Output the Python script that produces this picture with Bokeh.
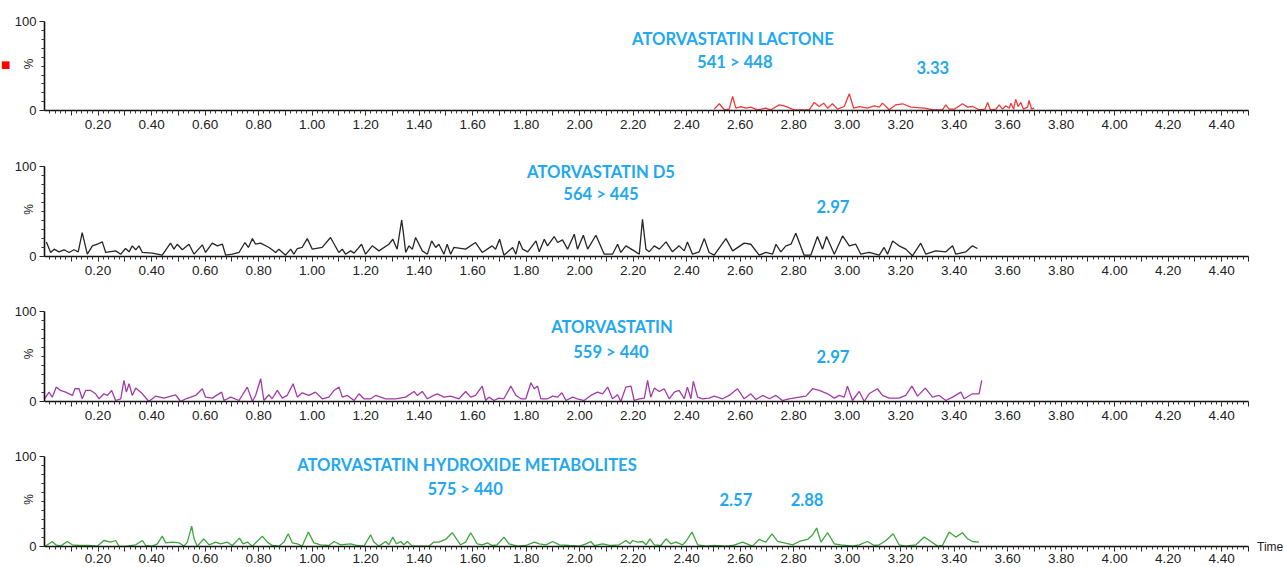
from bokeh.plotting import figure
from bokeh.models import Range1d, FixedTicker, Label, Div
from bokeh.layouts import column, row
from bokeh.embed import file_html
from bokeh.resources import INLINE

# ---------------- data (time in min, intensity in %) ----------------
lactone_t = [2.503, 2.522, 2.541, 2.559, 2.572, 2.584, 2.603, 2.621, 2.640, 2.665,
             2.696, 2.715, 2.746, 2.765, 2.802, 2.858, 2.877, 2.895, 2.912, 2.927,
             2.945, 2.964, 2.989, 3.008, 3.024, 3.045, 3.076, 3.101, 3.120, 3.132,
             3.157, 3.182, 3.207, 3.238, 3.288, 3.325, 3.356, 3.369, 3.381, 3.400,
             3.431, 3.450, 3.469, 3.493, 3.515, 3.525, 3.535, 3.556, 3.568, 3.581,
             3.593, 3.606, 3.612, 3.622, 3.630, 3.639, 3.649, 3.659, 3.674, 3.680,
             3.689, 3.699]
lactone_i = [1.5, 7.6, 0.8, 1.5, 15.9, 2.6, 4.5, 2.6, 3.8, 0.8,
             2.6, 0.8, 6.4, 5.3, 0.8, 0.8, 9.1, 4.5, 8.3, 2.6,
             7.6, 1.5, 4.5, 18.9, 2.6, 4.5, 2.6, 5.3, 3.8, 8.3,
             0.8, 6.4, 7.6, 3.8, 2.6, 0.8, 0.8, 6.4, 1.5, 1.5,
             7.6, 3.8, 4.5, 0.8, 1.5, 9.1, 0.8, 1.5, 6.4, 1.5,
             5.3, 2.6, 8.3, 1.5, 12.5, 4.5, 9.1, 1.5, 3.8, 11.3,
             1.5, 2.6]

d5_t = [0.007, 0.023, 0.036, 0.054, 0.073, 0.092, 0.110, 0.126, 0.141, 0.160,
        0.179, 0.197, 0.216, 0.229, 0.266, 0.285, 0.303, 0.316, 0.328, 0.341,
        0.353, 0.366, 0.403, 0.440, 0.471, 0.484, 0.496, 0.515, 0.540, 0.559,
        0.590, 0.602, 0.627, 0.646, 0.665, 0.677, 0.702, 0.727, 0.749, 0.762,
        0.777, 0.789, 0.808, 0.839, 0.851, 0.864, 0.876, 0.901, 0.920, 0.932,
        0.945, 0.963, 0.982, 1.001, 1.038, 1.069, 1.100, 1.113, 1.125, 1.144,
        1.157, 1.185, 1.200, 1.225, 1.250, 1.287, 1.302, 1.318, 1.335, 1.342,
        1.350, 1.362, 1.375, 1.387, 1.412, 1.431, 1.447, 1.462, 1.474, 1.493,
        1.505, 1.518, 1.530, 1.574, 1.611, 1.636, 1.673, 1.686, 1.701, 1.717,
        1.750, 1.762, 1.774, 1.787, 1.806, 1.837, 1.849, 1.868, 1.880, 1.905,
        1.918, 1.936, 1.955, 1.980, 1.992, 2.014, 2.030, 2.061, 2.092, 2.123,
        2.142, 2.154, 2.173, 2.204, 2.223, 2.235, 2.248, 2.260, 2.279, 2.298,
        2.323, 2.347, 2.372, 2.391, 2.403, 2.422, 2.447, 2.466, 2.484, 2.503,
        2.547, 2.572, 2.615, 2.640, 2.671, 2.696, 2.721, 2.734, 2.752, 2.771,
        2.790, 2.808, 2.839, 2.864, 2.889, 2.908, 2.923, 2.952, 2.983, 3.008,
        3.032, 3.051, 3.082, 3.120, 3.138, 3.151, 3.170, 3.194, 3.219, 3.244,
        3.275, 3.294, 3.331, 3.369, 3.394, 3.406, 3.444, 3.468, 3.487]
d5_i = [16.3, 4.5, 8.2, 5.2, 7.5, 4.5, 7.5, 5.2, 26.7, 2.6,
        11.9, 13.7, 16.3, 4.5, 6.3, 2.6, 8.9, 5.2, 11.9, 7.5,
        11.9, 4.5, 3.8, 1.5, 14.9, 8.2, 13.7, 7.5, 13.7, 2.6,
        13.0, 4.5, 14.9, 11.9, 13.7, 1.5, 2.6, 4.5, 15.6, 10.1,
        20.0, 13.7, 14.9, 10.1, 7.5, 4.5, 8.2, 1.5, 8.2, 2.6,
        8.9, 10.1, 20.0, 8.2, 10.1, 21.2, 4.5, 8.2, 2.6, 6.3,
        3.8, 13.7, 2.6, 11.9, 6.3, 13.7, 19.3, 8.2, 40.8, 24.9,
        4.5, 11.9, 8.2, 21.2, 6.3, 2.6, 17.4, 10.1, 13.7, 2.6,
        13.7, 2.6, 10.1, 8.2, 15.6, 4.5, 11.9, 8.2, 19.3, 1.5,
        10.1, 2.6, 17.4, 8.2, 5.2, 17.4, 5.2, 19.3, 11.9, 22.3,
        15.6, 18.6, 8.2, 24.9, 8.2, 23.7, 8.2, 23.7, 2.6, 2.6,
        13.7, 4.5, 11.9, 6.3, 2.6, 41.5, 8.2, 5.2, 11.9, 8.2,
        16.3, 5.2, 11.9, 6.3, 16.3, 2.6, 5.2, 20.0, 4.5, 1.5,
        20.0, 6.3, 14.9, 13.7, 1.5, 4.5, 2.6, 13.7, 5.2, 11.9,
        13.7, 26.0, 1.5, 1.5, 22.3, 8.2, 22.3, 2.6, 23.0, 11.9,
        13.7, 2.6, 4.5, 1.5, 10.1, 2.6, 17.4, 11.9, 8.2, 0.8,
        14.9, 2.6, 6.3, 5.2, 11.9, 2.6, 5.2, 11.9, 8.9]

atv_t = [0.000, 0.017, 0.029, 0.044, 0.060, 0.079, 0.104, 0.114, 0.129, 0.141,
         0.154, 0.173, 0.191, 0.204, 0.222, 0.235, 0.251, 0.266, 0.285, 0.297,
         0.306, 0.316, 0.328, 0.341, 0.366, 0.390, 0.415, 0.447, 0.490, 0.509,
         0.528, 0.565, 0.590, 0.602, 0.627, 0.662, 0.671, 0.696, 0.727, 0.758,
         0.777, 0.789, 0.808, 0.820, 0.839, 0.851, 0.870, 0.889, 0.907, 0.929,
         0.945, 0.963, 0.988, 1.013, 1.038, 1.063, 1.082, 1.101, 1.113, 1.132,
         1.157, 1.175, 1.194, 1.219, 1.238, 1.275, 1.312, 1.350, 1.381, 1.393,
         1.412, 1.431, 1.449, 1.468, 1.493, 1.518, 1.549, 1.574, 1.593, 1.611,
         1.636, 1.649, 1.661, 1.680, 1.698, 1.717, 1.743, 1.762, 1.781, 1.799,
         1.818, 1.830, 1.843, 1.855, 1.880, 1.899, 1.918, 1.934, 1.949, 1.974,
         1.992, 2.017, 2.042, 2.067, 2.086, 2.105, 2.123, 2.142, 2.154, 2.173,
         2.192, 2.204, 2.223, 2.242, 2.254, 2.266, 2.279, 2.298, 2.316, 2.335,
         2.354, 2.372, 2.391, 2.403, 2.416, 2.425, 2.441, 2.460, 2.484, 2.503,
         2.534, 2.559, 2.590, 2.615, 2.640, 2.659, 2.684, 2.709, 2.734, 2.758,
         2.783, 2.821, 2.846, 2.871, 2.896, 2.927, 2.952, 2.970, 2.989, 3.001,
         3.020, 3.045, 3.064, 3.082, 3.113, 3.132, 3.157, 3.194, 3.219, 3.242,
         3.263, 3.292, 3.319, 3.344, 3.369, 3.394, 3.425, 3.437, 3.468, 3.493,
         3.503]
atv_i = [3.0, 10.4, 4.8, 15.9, 12.2, 10.4, 6.7, 14.1, 14.1, 3.0,
         12.2, 12.2, 8.5, 3.0, 8.5, 6.7, 12.2, 1.1, 3.0, 23.3,
         10.4, 19.6, 6.7, 14.8, 8.5, 0.0, 5.9, 3.7, 7.4, 0.0,
         3.0, 6.7, 14.1, 4.8, 3.7, 10.4, 1.1, 4.8, 1.1, 15.9,
         0.0, 6.7, 25.2, 1.1, 7.4, 3.0, 12.2, 3.7, 6.7, 19.6,
         4.8, 9.6, 6.7, 10.4, 3.0, 4.8, 12.2, 15.9, 4.8, 6.7,
         1.1, 8.5, 3.0, 3.0, 6.7, 3.0, 3.0, 4.8, 11.1, 6.7,
         11.1, 3.0, 5.9, 8.5, 4.8, 5.9, 3.0, 11.1, 4.8, 6.7,
         17.0, 1.1, 4.8, 1.1, 3.7, 3.0, 17.0, 6.7, 3.0, 3.0,
         20.7, 14.1, 17.0, 3.0, 3.0, 5.9, 4.8, 9.6, 1.1, 4.8,
         3.0, 1.1, 6.7, 10.4, 8.5, 15.9, 3.0, 7.4, 0.0, 15.9,
         17.0, 1.1, 3.0, 3.7, 23.3, 4.8, 14.8, 11.1, 14.1, 3.0,
         10.4, 12.2, 3.0, 15.9, 3.0, 22.2, 4.8, 3.0, 3.7, 5.9,
         3.0, 6.7, 14.1, 3.0, 8.5, 2.2, 6.7, 3.0, 6.7, 1.1,
         3.0, 4.8, 5.9, 14.1, 12.2, 8.5, 3.7, 6.7, 4.8, 17.0,
         1.1, 11.1, 0.0, 8.5, 14.1, 6.7, 3.7, 3.7, 6.7, 17.0,
         5.9, 14.8, 4.8, 6.7, 1.1, 4.8, 10.4, 3.0, 8.5, 8.5,
         23.3]

hydroxy_t = [0.000, 0.017, 0.029, 0.042, 0.060, 0.085, 0.104, 0.129, 0.166, 0.197,
             0.222, 0.247, 0.266, 0.278, 0.303, 0.341, 0.366, 0.378, 0.403, 0.422,
             0.440, 0.453, 0.478, 0.503, 0.521, 0.534, 0.550, 0.559, 0.571, 0.596,
             0.615, 0.640, 0.658, 0.683, 0.702, 0.729, 0.742, 0.758, 0.777, 0.814,
             0.833, 0.851, 0.876, 0.895, 0.911, 0.926, 0.945, 0.963, 0.986, 1.007,
             1.032, 1.063, 1.082, 1.107, 1.144, 1.169, 1.194, 1.219, 1.231, 1.250,
             1.275, 1.287, 1.302, 1.315, 1.331, 1.343, 1.356, 1.375, 1.412, 1.437,
             1.455, 1.474, 1.499, 1.524, 1.555, 1.574, 1.593, 1.617, 1.636, 1.655,
             1.673, 1.692, 1.717, 1.736, 1.768, 1.799, 1.831, 1.849, 1.874, 1.899,
             1.924, 1.961, 1.999, 2.024, 2.042, 2.055, 2.086, 2.117, 2.148, 2.173,
             2.188, 2.198, 2.217, 2.235, 2.248, 2.263, 2.279, 2.304, 2.323, 2.341,
             2.360, 2.385, 2.397, 2.420, 2.441, 2.472, 2.503, 2.547, 2.572, 2.609,
             2.646, 2.671, 2.696, 2.719, 2.740, 2.765, 2.796, 2.821, 2.852, 2.871,
             2.886, 2.902, 2.927, 2.952, 2.976, 3.020, 3.045, 3.076, 3.101, 3.120,
             3.145, 3.172, 3.194, 3.219, 3.257, 3.288, 3.313, 3.338, 3.356, 3.381,
             3.406, 3.431, 3.450, 3.468, 3.493]
hydroxy_i = [0.0, 3.0, 5.6, 1.9, 0.4, 5.6, 1.9, 1.1, 1.1, 0.4,
             6.7, 4.9, 6.7, 0.4, 0.0, 1.9, 6.7, 1.1, 0.4, 3.0,
             11.6, 4.1, 4.9, 4.1, 0.4, 4.9, 22.8, 8.6, 0.4, 8.6,
             1.9, 4.9, 3.0, 4.9, 1.1, 9.4, 3.0, 4.9, 0.4, 11.6,
             4.9, 1.1, 0.4, 4.9, 14.2, 4.1, 3.0, 0.4, 16.1, 4.1,
             1.9, 1.1, 5.6, 1.9, 3.0, 1.1, 0.4, 13.1, 4.9, 0.4,
             5.6, 1.9, 10.5, 3.0, 5.6, 1.9, 5.6, 0.4, 0.4, 0.4,
             4.9, 4.9, 7.9, 15.4, 1.9, 4.9, 15.4, 3.0, 1.9, 4.1,
             1.1, 1.9, 10.5, 3.0, 0.4, 1.1, 4.9, 3.0, 1.9, 5.6,
             1.9, 1.1, 0.4, 3.0, 5.6, 1.1, 3.0, 1.1, 1.9, 6.7,
             3.0, 6.7, 4.9, 5.6, 1.9, 8.6, 1.9, 1.1, 8.6, 3.0,
             4.9, 1.9, 5.6, 16.1, 1.9, 0.4, 1.1, 0.4, 1.1, 4.9,
             0.4, 7.9, 4.9, 14.2, 5.6, 4.1, 1.9, 5.6, 7.9, 13.1,
             20.6, 4.9, 15.4, 3.0, 1.9, 0.4, 1.9, 5.6, 1.1, 1.9,
             6.7, 14.2, 1.9, 0.4, 1.9, 10.5, 5.6, 0.4, 1.1, 16.1,
             10.5, 15.4, 8.6, 5.6, 4.9]

compounds = ["ATORVASTATIN LACTONE", "ATORVASTATIN D5", "ATORVASTATIN",
             "ATORVASTATIN HYDROXIDE METABOLITES"]
transitions = ["541 > 448", "564 > 445", "559 > 440", "575 > 440"]
retention_times = [["3.33"], ["2.97"], ["2.97"], ["2.57", "2.88"]]

x_major = [round(0.1 * k, 2) for k in range(1, 46)]
x_minor = [round(0.02 * k, 2) for k in range(1, 225)]
x_labels = {v: (f"{v:.2f}" if k % 2 == 0 else "") for k, v in enumerate(x_major, start=1)}

# ---------------- style / layout ----------------
traces = [(lactone_t, lactone_i, "#f03a3a"),
          (d5_t, d5_i, "#262626"),
          (atv_t, atv_i, "#a23aa8"),
          (hydroxy_t, hydroxy_i, "#3ea63e")]
# (x, y) of name, transition and RT texts, in data units
name_pos = [(2.573, 80.5), (2.080, 94.4), (2.121, 82.2), (1.579, 91.0)]
trans_pos = [(2.580, 54.7), (2.080, 70.0), (2.117, 54.4), (1.572, 64.0)]
rt_pos = [[(3.32, 49.0)], [(2.947, 55.6)], [(2.947, 50.0)], [(2.584, 52.8), (2.850, 52.8)]]

heights = [152, 146, 145, 124]
tops = [17, 10, 8, 9]
bottoms = [42, 42, 42, 21]
label_standoffs = [4, 4, 4, 2]
Y_TOP = 105
BLUE = "#22a8f0"
TICK_FONT = "Liberation Sans"
TEXT_SIZE = "16.6px"
SQ_W = 12      # width of the left strip holding the red marker (panel 1)
TIME_W = 34    # width of the right strip holding "Time" (panel 4)

xr = Range1d(0, 4.5)
figs = []
for i in range(4):
    width = 1284
    left = 44
    right = 36
    if i == 0:
        width -= SQ_W
        left -= SQ_W
    if i == 3:
        width -= TIME_W
        right -= TIME_W
    p = figure(width=width, height=heights[i], x_range=xr,
               y_range=Range1d(0, Y_TOP),
               output_backend="svg", toolbar_location=None,
               min_border_left=left, min_border_right=right,
               min_border_top=tops[i], min_border_bottom=bottoms[i])
    p.xgrid.visible = False
    p.ygrid.visible = False
    p.outline_line_color = None
    p.background_fill_color = "white"
    p.border_fill_color = "white"

    t, v, col = traces[i]
    p.line(t, v, line_color=col, line_width=1.3)

    xa = p.xaxis[0]
    xa.ticker = FixedTicker(ticks=x_major, minor_ticks=x_minor)
    xa.major_label_overrides = x_labels
    xa.axis_line_width = 1.6
    xa.axis_line_color = "#111111"
    xa.major_tick_out = 5
    xa.major_tick_in = 0
    xa.minor_tick_out = 3
    xa.minor_tick_in = 0
    xa.major_tick_line_color = "#222222"
    xa.minor_tick_line_color = "#333333"
    xa.major_label_standoff = label_standoffs[i]
    xa.major_label_text_font = TICK_FONT
    xa.major_label_text_font_size = "13.5px"
    xa.major_label_text_color = "#222222"

    ya = p.yaxis[0]
    ya.bounds = (0, 100)
    ya.ticker = FixedTicker(ticks=[0, 100], minor_ticks=[10, 20, 30, 40, 50, 60, 70, 80, 90])
    ya.axis_line_width = 1.6
    ya.axis_line_color = "#111111"
    ya.major_tick_out = 5
    ya.major_tick_in = 0
    ya.minor_tick_out = 3
    ya.minor_tick_in = 0
    ya.major_tick_line_color = "#222222"
    ya.minor_tick_line_color = "#333333"
    ya.major_label_standoff = 3
    ya.major_label_text_font = TICK_FONT
    ya.major_label_text_font_size = "13px"
    ya.major_label_text_color = "#222222"
    ya.axis_label = "%"
    ya.axis_label_standoff = -24
    ya.axis_label_text_font = TICK_FONT
    ya.axis_label_text_font_style = "normal"
    ya.axis_label_text_font_size = "12px"
    ya.axis_label_text_color = "#222222"

    p.add_layout(Label(x=name_pos[i][0], y=name_pos[i][1], text=compounds[i],
                       text_align="center", text_baseline="middle", text_font="Lato",
                       text_font_style="bold", text_font_size=TEXT_SIZE, text_color=BLUE))
    p.add_layout(Label(x=trans_pos[i][0], y=trans_pos[i][1], text=transitions[i],
                       text_align="center", text_baseline="middle", text_font="Lato",
                       text_font_style="bold", text_font_size=TEXT_SIZE, text_color=BLUE))
    for rt, (rx, ry) in zip(retention_times[i], rt_pos[i]):
        p.add_layout(Label(x=rx, y=ry, text=rt, text_align="center",
                           text_baseline="middle", text_font="Lato",
                           text_font_style="bold", text_font_size=TEXT_SIZE, text_color=BLUE))
    figs.append(p)

square_div = Div(text="\u25A0", width=SQ_W, height=heights[0], margin=(0, 0, 0, 0),
                 styles={"font-family": "DejaVu Sans, sans-serif", "font-size": "10px",
                         "color": "#ff0000", "line-height": "12px",
                         "padding-top": "59px", "padding-left": "1px"})
time_div = Div(text="Time", width=TIME_W, height=heights[3], margin=(0, 0, 0, 0),
               styles={"font-family": "Liberation Sans, Arial, sans-serif",
                       "font-size": "12px", "color": "#222222", "line-height": "14px",
                       "padding-top": "97px", "padding-left": "7px"})

layout = column(row(square_div, figs[0], spacing=0), figs[1], figs[2],
                row(figs[3], time_div, spacing=0), spacing=0)
open("out.html", "w").write(file_html(layout, INLINE))
